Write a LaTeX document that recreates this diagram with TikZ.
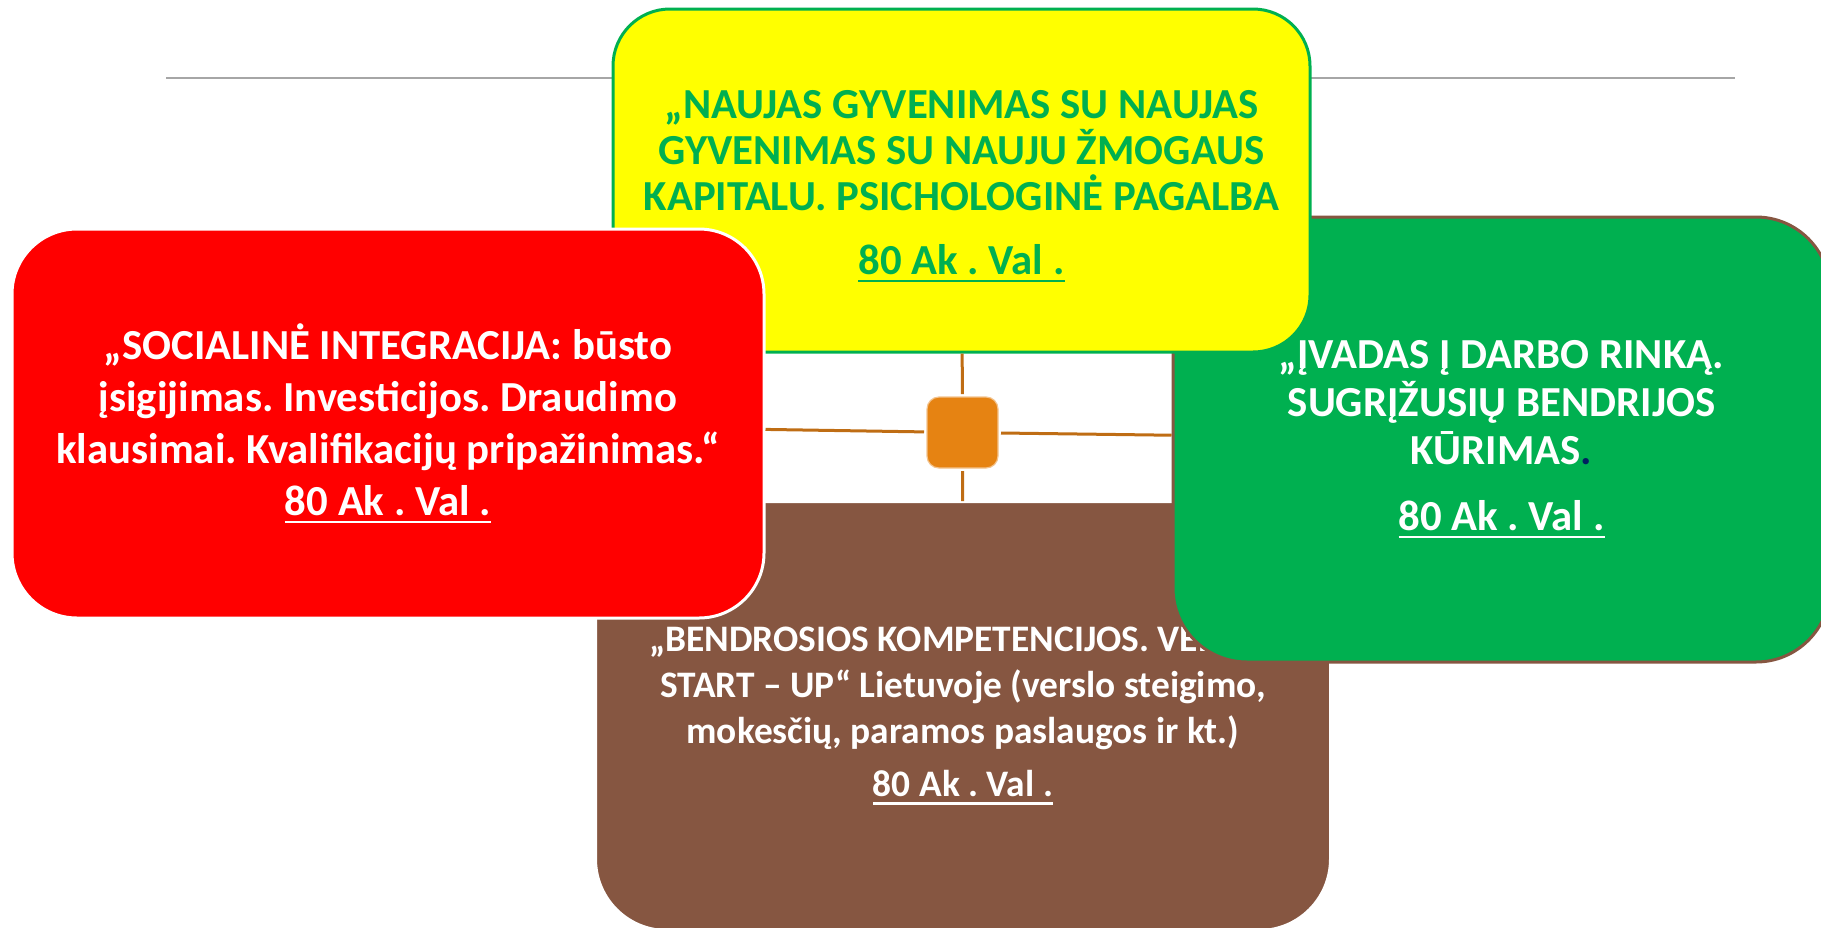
\documentclass[tikz,border=0pt]{standalone}
\usepackage{fontspec}
\setmainfont{Carlito}
\usepackage{tikz}
\frenchspacing

\definecolor{boxyellow}{HTML}{FFFF00}
\definecolor{boxgreen}{HTML}{00B050}
\definecolor{boxred}{HTML}{FF0000}
\definecolor{boxbrown}{HTML}{865641}
\definecolor{hubfill}{HTML}{E68312}
\definecolor{hubedge}{HTML}{F3C38E}
\definecolor{hubline}{HTML}{BF6D14}
\definecolor{rulegray}{HTML}{A6A6A6}
\definecolor{dotblue}{HTML}{002060}

\newcommand{\ulined}[1]{\leavevmode\setbox0=\hbox{#1}\rlap{\rule[-3.8pt]{\wd0}{1.3pt}}\box0}

\begin{document}
\begin{tikzpicture}[x=0.5pt,y=-0.5pt,
  topic/.style={rounded corners=#1,align=center,inner sep=0pt,line width=1.5pt},
  spoke/.style={draw=hubline,line width=1.5pt}]
\useasboundingbox (0,0) rectangle (1821,927);
\draw[rulegray,line width=1pt] (166,78) -- (1735,78);
\node [rounded corners=6pt,fill=hubfill,draw=hubedge,line width=0.6pt,minimum size=35.5pt,outer sep=1.5pt] (hub) at (962.5,432.5) {};
\node [topic=35.5pt,fill=boxbrown,draw=white,line width=1pt,minimum width=367pt,minimum height=214pt,text=white,
       font=\bfseries\fontsize{18.7}{23}\selectfont] (startup) at (963,716)
  {„BENDROSIOS KOMPETENCIJOS. VERSLO\\ START – UP“ Lietuvoje (verslo steigimo,\\ mokesčių, paramos paslaugos ir kt.)\\[3.5pt] \ulined{80 Ak . Val .}};
\node [topic=37pt,fill=boxgreen,draw=boxbrown,minimum width=328.5pt,minimum height=222.5pt,text=white,
       font=\bfseries\fontsize{21.4}{24}\selectfont] (market) at (1501.5,439.5)
  {„ĮVADAS Į DARBO RINKĄ.\\ SUGRĮŽUSIŲ BENDRIJOS\\ KŪRIMAS{\color{dotblue}.}\\[9pt] \ulined{80 Ak . Val .}};
\node [topic=28.5pt,fill=boxyellow,draw=boxgreen,minimum width=348.5pt,minimum height=171.5pt,text=boxgreen,
       font=\bfseries\fontsize{21.4}{23}\selectfont] (psycho) at (961.5,180.5)
  {\rule{0pt}{20pt}„NAUJAS GYVENIMAS SU NAUJAS\\ GYVENIMAS SU NAUJU ŽMOGAUS\\ KAPITALU. PSICHOLOGINĖ PAGALBA\\[9pt] \ulined{80 Ak . Val .}};
\node [topic=32.5pt,fill=boxred,draw=white,minimum width=376pt,minimum height=194.5pt,text=white,
       font=\bfseries\fontsize{21.4}{26}\selectfont] (social) at (388,423.5)
  {„SOCIALINĖ INTEGRACIJA: būsto\\ įsigijimas. Investicijos. Draudimo\\ klausimai. Kvalifikacijų pripažinimas.“\\ \ulined{80 Ak . Val .}};
\draw[spoke] (hub) -- (psycho);
\draw[spoke] (hub) -- (social);
\draw[spoke] (hub) -- (market);
\draw[spoke] (hub) -- (startup);
\end{tikzpicture}
\end{document}
